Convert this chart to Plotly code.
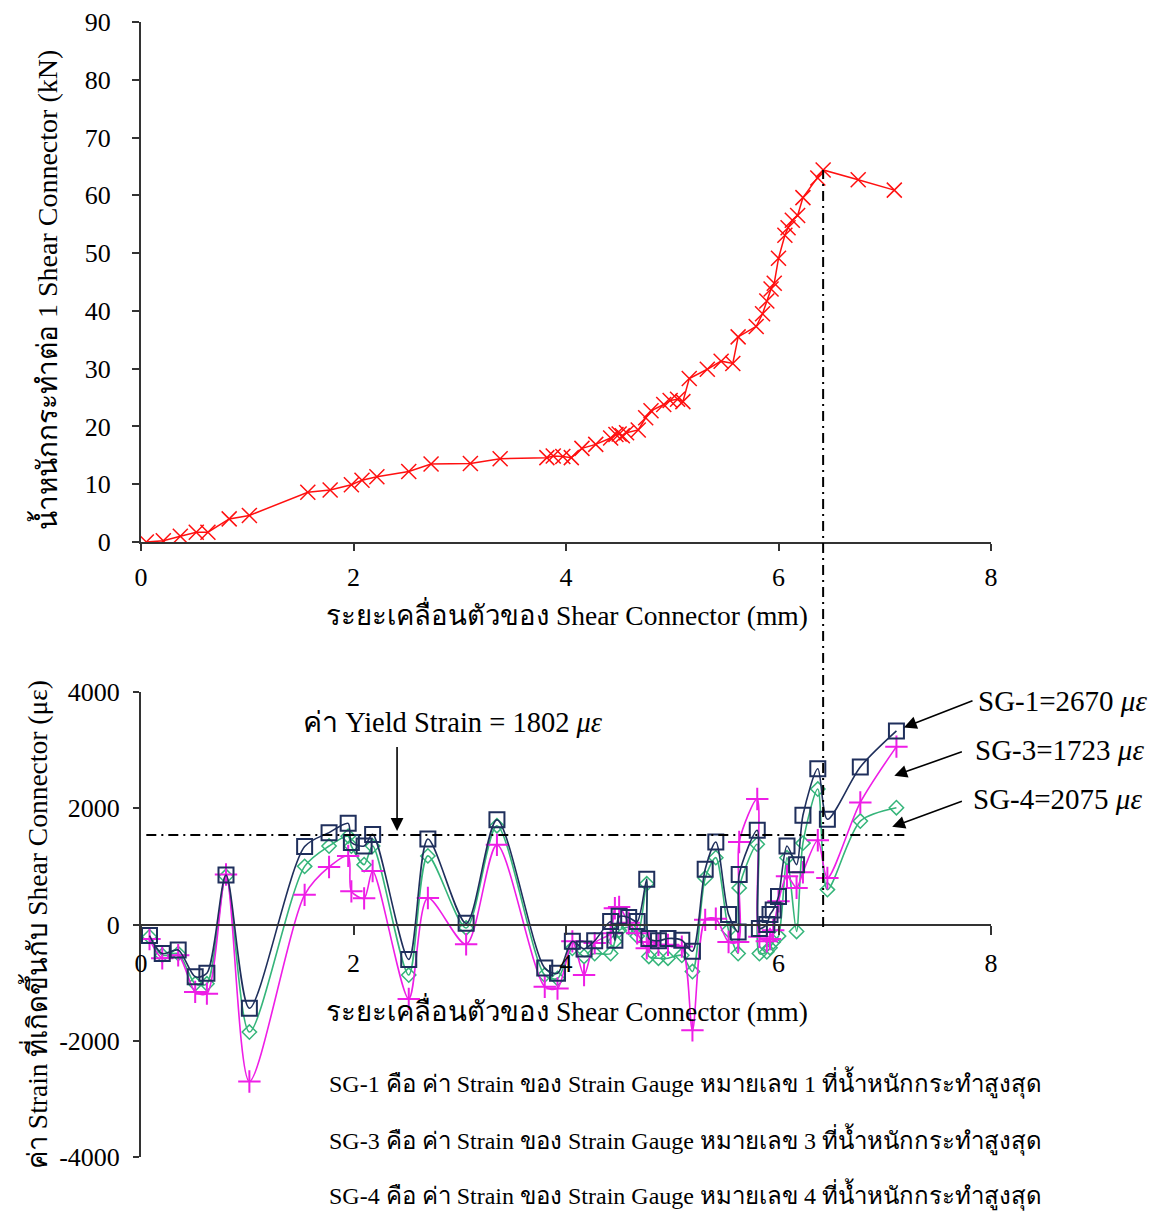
import plotly.graph_objects as go

# ---------------- data ----------------
# Top chart: load vs. slip
load_disp = [0.05, 0.21, 0.37, 0.52, 0.63, 0.83, 1.02, 1.57, 1.78, 1.98, 2.08, 2.22, 2.52, 2.73,
             3.10, 3.38, 3.82, 3.88, 3.97, 4.05, 4.15, 4.28, 4.42, 4.47, 4.50, 4.53, 4.57, 4.68,
             4.75, 4.80, 4.92, 4.98, 5.05, 5.10, 5.16, 5.33, 5.46, 5.57, 5.62, 5.79, 5.85, 5.89,
             5.93, 5.96, 6.00, 6.06, 6.09, 6.13, 6.18, 6.23, 6.37, 6.42, 6.75, 7.09]
load_kn = [0.0, 0.2, 1.0, 1.7, 1.7, 4.0, 4.6, 8.6, 9.0, 9.9, 10.7, 11.3, 12.2, 13.5,
           13.6, 14.4, 14.6, 14.9, 14.8, 14.6, 16.2, 16.9, 18.0, 18.6, 18.7, 18.4, 18.9, 19.4,
           21.5, 22.7, 23.8, 24.5, 24.7, 24.3, 28.3, 29.9, 31.3, 30.9, 35.5, 37.3, 39.5, 41.7,
           43.8, 44.8, 49.1, 53.1, 54.4, 55.7, 56.5, 59.6, 63.0, 64.4, 62.7, 60.9]

# Bottom chart: strain vs. slip
strain_disp = [0.08, 0.20, 0.35, 0.51, 0.62, 0.80, 1.02, 1.54, 1.77, 1.95, 1.98, 2.10, 2.18,
               2.52, 2.70, 3.06, 3.35, 3.80, 3.92, 4.06, 4.17, 4.27, 4.42, 4.46, 4.50, 4.59,
               4.67, 4.76, 4.78, 4.87, 4.96, 5.09, 5.19, 5.31, 5.41, 5.53, 5.62, 5.63, 5.80,
               5.82, 5.89, 5.92, 5.95, 6.00, 6.08, 6.17, 6.23, 6.37, 6.46, 6.77, 7.11]
sg1 = [-190, -500, -440, -900, -840, 850, -1440, 1340, 1580, 1740, 1410, 1350, 1550,
       -600, 1470, 20, 1800, -750, -840, -290, -420, -280, 50, -270, 140, 120,
       50, 780, -240, -280, -240, -270, -460, 950, 1420, 170, -130, 860, 1620,
       -70, 0, 170, 250, 480, 1350, 1030, 1880, 2680, 1810, 2710, 3330]
sg4 = [-210, -530, -500, -1020, -1020, 830, -1850, 1000, 1350, 1520, 1350, 1030, 1350,
       -870, 1180, -60, 1700, -870, -930, -410, -550, -500, -500, -290, -100, -50,
       -200, 700, -550, -580, -580, -530, -810, 800, 1150, -100, -500, 630, 1380,
       -500, -470, -400, -300, -200, 1150, -120, 1400, 2330, 600, 1780, 2010]
sg3 = [-250, -580, -530, -1160, -1190, 860, -2700, 510, 990, 1180, 570, 450, 920,
       -1280, 455, -340, 1370, -1070, -1100, -290, -870, -320, -150, 280, 300, 30,
       -150, -410, -300, -350, -350, -380, -1820, 80, 100, -300, -300, 1420, 2160,
       -210, -290, -250, -100, 400, 830, 630, 900, 1450, 800, 2100, 3060]

yield_line_value = 1540
x_ticks = [0, 2, 4, 6, 8]
load_ticks = [0, 10, 20, 30, 40, 50, 60, 70, 80, 90]
strain_ticks = [-4000, -2000, 0, 2000, 4000]

# ---------------- layout helpers ----------------
W, H = 1170, 1213
OFF = 8  # page body margin
def px(x):
    return (x - OFF) / W
def py(y):
    return 1 - (y - OFF) / H

FONT = "Liberation Serif, Times New Roman, serif"
AX = "#333333"

top_x_dom = [px(141), px(991)]
top_y_dom = [py(542), py(22)]
bot_y_dom = [py(1157), py(692)]
s_min, s_max = -4000, 4000
zero_pos = bot_y_dom[0] + (0 - s_min) / (s_max - s_min) * (bot_y_dom[1] - bot_y_dom[0])

fig = go.Figure()

fig.add_trace(go.Scatter(
    x=load_disp, y=load_kn, mode="lines+markers", xaxis="x", yaxis="y",
    line=dict(color="#FF1010", width=1.5),
    marker=dict(symbol="x-thin", size=15, line=dict(color="#FF1010", width=1.5)),
    showlegend=False))

fig.add_trace(go.Scatter(
    x=strain_disp, y=sg4, mode="lines+markers", xaxis="x2", yaxis="y2", name="SG-4",
    line=dict(color="#35B57A", width=1.6, shape="spline", smoothing=0.8),
    marker=dict(symbol="diamond-open", size=11, color="#35B57A", line=dict(width=1.5)),
    showlegend=False))
fig.add_trace(go.Scatter(
    x=strain_disp, y=sg3, mode="lines+markers", xaxis="x2", yaxis="y2", name="SG-3",
    line=dict(color="#EE1EE6", width=1.6, shape="spline", smoothing=0.8),
    marker=dict(symbol="cross-thin", size=16, color="#EE1EE6", line=dict(width=2, color="#EE1EE6")),
    showlegend=False))
fig.add_trace(go.Scatter(
    x=strain_disp, y=sg1, mode="lines+markers", xaxis="x2", yaxis="y2", name="SG-1",
    line=dict(color="#1F2F5C", width=1.6, shape="spline", smoothing=0.8),
    marker=dict(symbol="square-open", size=15, color="#1F2F5C", line=dict(width=2)),
    showlegend=False))

axis_common = dict(showgrid=False, zeroline=False, showline=True, linecolor=AX, linewidth=2,
                   ticks="outside", tickcolor=AX, tickwidth=2, automargin=False,
                   tickfont=dict(family=FONT, size=26, color="black"))

fig.update_layout(
    width=W, height=H, margin=dict(l=0, r=0, t=0, b=0, pad=0),
    paper_bgcolor="white", plot_bgcolor="white",
    font=dict(family=FONT, color="black"),
    xaxis=dict(domain=top_x_dom, range=[0, 8], tickvals=x_ticks, anchor="y",
               ticklen=7, ticklabelstandoff=4, **axis_common),
    yaxis=dict(domain=top_y_dom, range=[0, 90], tickvals=load_ticks, anchor="x",
               ticklen=7, ticklabelstandoff=16, **axis_common),
    xaxis2=dict(domain=top_x_dom, range=[0, 8], tickvals=x_ticks, anchor="free",
                position=zero_pos, ticklen=9, ticklabelstandoff=6, **axis_common),
    yaxis2=dict(domain=bot_y_dom, range=[s_min, s_max], tickvals=strain_ticks,
                ticktext=[str(v) for v in strain_ticks], anchor="x2",
                ticklen=6, ticklabelstandoff=8, **axis_common),
)

peak_i = load_kn.index(max(load_kn))
peak_x = load_disp[peak_i]
peak_paper = top_y_dom[0] + load_kn[peak_i] / 90 * (top_y_dom[1] - top_y_dom[0])

shapes = [
    dict(type="line", xref="x", yref="paper", x0=peak_x, x1=peak_x,
         y0=zero_pos - 0.002, y1=peak_paper,
         line=dict(color="black", width=2, dash="10px,5px,2px,5px")),
    dict(type="line", xref="x2", yref="y2", x0=0.05, x1=7.2,
         y0=yield_line_value, y1=yield_line_value,
         line=dict(color="black", width=2, dash="10px,5px,2px,5px")),
]
fig.update_layout(shapes=shapes)

ann = []
def text(x, y, s, size=26, xanchor="center", angle=0):
    ann.append(dict(x=px(x), y=py(y), xref="paper", yref="paper", text=s, showarrow=False,
                    xanchor=xanchor, yanchor="middle", textangle=angle,
                    font=dict(family=FONT, size=size, color="black")))

text(567, 614, "ระยะเคลื่อนตัวของ Shear Connector (mm)", size=27.5)
text(567, 1010, "ระยะเคลื่อนตัวของ Shear Connector (mm)", size=27.5)
text(45, 290, "น้ำหนักกระทำต่อ 1 Shear Connector (kN)", size=28, angle=-90)
text(35, 925, "ค่า Strain ที่เกิดขึ้นกับ Shear Connector (με)", size=27.5, angle=-90)
text(453, 722, "ค่า Yield Strain = 1802 <i>με</i>", size=28.5)
text(976, 701, "SG-1=2670 <i>με</i>", size=29, xanchor="left")
text(973, 750, "SG-3=1723 <i>με</i>", size=29, xanchor="left")
text(971, 799, "SG-4=2075 <i>με</i>", size=29, xanchor="left")
text(327, 1082, "SG-1 คือ ค่า Strain ของ Strain Gauge หมายเลข 1 ที่น้ำหนักกระทำสูงสุด", size=24, xanchor="left")
text(327, 1139, "SG-3 คือ ค่า Strain ของ Strain Gauge หมายเลข 3 ที่น้ำหนักกระทำสูงสุด", size=24, xanchor="left")
text(327, 1194, "SG-4 คือ ค่า Strain ของ Strain Gauge หมายเลข 4 ที่น้ำหนักกระทำสูงสุด", size=24, xanchor="left")

# arrows (head at x,y ; tail at ax,ay) in bottom-chart data coords
arrows = [
    (7.18, 3390, 7.84, 3860),
    (7.09, 2560, 7.74, 2980),
    (7.07, 1680, 7.74, 2130),
    (2.41, 1610, 2.41, 3080),
]
for hx, hy, tx, ty in arrows:
    ann.append(dict(x=hx, y=hy, ax=tx, ay=ty, xref="x2", yref="y2", axref="x2", ayref="y2",
                    text="", showarrow=True, arrowhead=2, arrowsize=1.6, arrowwidth=1.6,
                    arrowcolor="black"))

fig.update_layout(annotations=ann)
fig.write_html("out.html")
